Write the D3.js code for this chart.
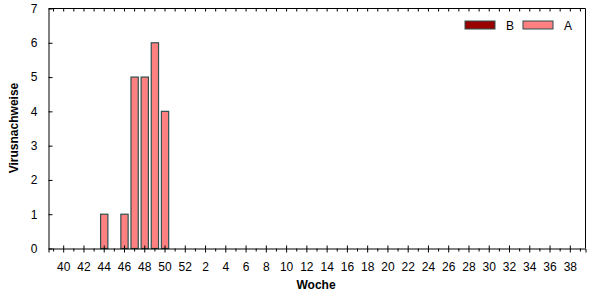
<!DOCTYPE html>
<html><head><meta charset="utf-8">
<script src="https://cdn.jsdelivr.net/npm/d3@7"></script>
<style>body{margin:0;background:#fff}svg{display:block}text{font-family:"Liberation Sans",Arial,sans-serif}</style>
</head><body><svg id="c" width="602" height="300"></svg>
<script>
const weeks = [39,40,41,42,43,44,45,46,47,48,49,50,51,52,1,2,3,4,5,6,7,8,9,10,11,12,13,14,15,16,17,18,19,20,21,22,23,24,25,26,27,28,29,30,31,32,33,34,35,36,37,38,39];
const seriesA = [0,0,0,0,0,1,0,1,5,5,6,4,0,0,0,0,0,0,0,0,0,0,0,0,0,0,0,0,0,0,0,0,0,0,0,0,0,0,0,0,0,0,0,0,0,0,0,0,0,0,0,0,0];
const seriesB = [0,0,0,0,0,0,0,0,0,0,0,0,0,0,0,0,0,0,0,0,0,0,0,0,0,0,0,0,0,0,0,0,0,0,0,0,0,0,0,0,0,0,0,0,0,0,0,0,0,0,0,0,0];
const yTicks = [0,1,2,3,4,5,6,7];
const legendItems = [{name:"B",color:"#990000"},{name:"A",color:"#ff8080"}];

const svg = d3.select("#c");
const L = 48.5, R = 585.5, T = 8.5, B = 248.5;
const x = d3.scaleBand().domain(d3.range(weeks.length)).range([L, R]).paddingInner(0.28).paddingOuter(0.14);
const y = d3.scaleLinear().domain([0,7]).range([B, T]);
const cx = i => x(i) + x.bandwidth()/2;

// bars
const bars = seriesA.map((v,i)=>({v,i})).filter(d=>d.v>0);
svg.append("g").selectAll("rect").data(bars).join("rect")
  .attr("x", d=>x(d.i)).attr("width", x.bandwidth())
  .attr("y", d=>y(d.v)).attr("height", d=>y(0)-y(d.v))
  .attr("fill","#ff8080").attr("stroke","#2f4f4f").attr("stroke-width",1.2);

// frame
svg.append("path").attr("d",`M${L},${T}H${R}V${B}`).attr("fill","none").attr("stroke","#000").attr("stroke-width",1);

// y axis
const ya = svg.append("g").attr("transform",`translate(${L},0)`)
  .call(d3.axisLeft(y).tickValues(yTicks).tickFormat(d3.format("d")).tickSizeInner(4).tickSizeOuter(0).tickPadding(7));
ya.selectAll(".tick line").attr("x2",4);
ya.select(".domain").attr("stroke","#000");
ya.selectAll("text").attr("font-size",12).attr("fill","#000");

// x axis
const xa = svg.append("g").attr("transform",`translate(0,${B})`)
  .call(d3.axisBottom(x).tickFormat(i => weeks[i]%2===0 ? weeks[i] : "").tickSizeOuter(0).tickSize(4).tickPadding(10));
xa.select(".domain").attr("stroke","#000");
xa.selectAll(".tick line").each(function(i){
  const major = weeks[i]%2===0;
  d3.select(this).attr("y1", major ? -3 : 0).attr("y2", major ? 4 : 3);
});
xa.selectAll("text").attr("font-size",12).attr("fill","#000");

// top ticks
svg.append("g").selectAll("line").data(d3.range(weeks.length)).join("line")
  .attr("x1",cx).attr("x2",cx).attr("y1",T).attr("y2",T+3).attr("stroke","#000");

// axis titles
svg.append("text").attr("x",316).attr("y",289).attr("text-anchor","middle")
  .attr("font-size",12).attr("font-weight","bold").text("Woche");
svg.append("text").attr("transform","translate(18,128) rotate(-90)").attr("text-anchor","middle")
  .attr("font-size",12).attr("font-weight","bold").text("Virusnachweise");

// legend
const lg = svg.append("g");
const lx = [465, 523];
legendItems.forEach((d,k)=>{
  lg.append("rect").attr("x",lx[k]).attr("y",21).attr("width",30).attr("height",8)
    .attr("fill",d.color).attr("stroke","#2f4f4f").attr("stroke-width",1);
  lg.append("text").attr("x",lx[k]+41).attr("y",29.5).attr("font-size",12).attr("fill","#000").text(d.name);
});
</script></body></html>
